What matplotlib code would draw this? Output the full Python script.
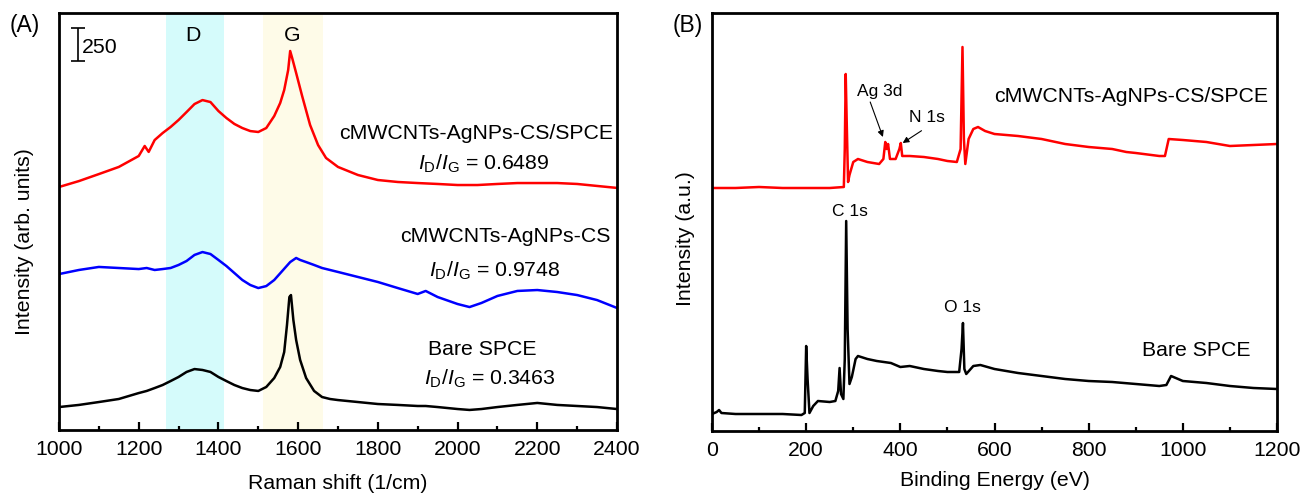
import matplotlib
matplotlib.use('Agg')
import matplotlib.pyplot as plt

plt.rcParams['font.family'] = ['Liberation Sans', 'DejaVu Sans']
plt.rcParams['mathtext.fontset'] = 'custom'
plt.rcParams['mathtext.rm'] = 'Liberation Sans'
plt.rcParams['mathtext.it'] = 'Liberation Sans:italic'
plt.rcParams['font.size'] = 15.3

# ---- (A) Raman spectra ----
raman_bare_x = [1000, 1050, 1100, 1150, 1200, 1220, 1240, 1260, 1280, 1300, 1320, 1340, 1360,
                1380, 1400, 1420, 1440, 1460, 1480, 1500, 1520, 1540, 1555, 1565, 1572, 1578,
                1582, 1588, 1595, 1605, 1620, 1640, 1660, 1680, 1700, 1750, 1800, 1850, 1900,
                1920, 1950, 2000, 2030, 2060, 2100, 2150, 2200, 2250, 2300, 2350, 2400]
raman_bare_y = [174, 190, 212, 235, 280, 296, 318, 341, 371, 402, 440, 462, 455,
                440, 402, 371, 341, 318, 303, 296, 326, 394, 478, 591, 796, 1008,
                1023, 834, 682, 531, 394, 296, 250, 235, 227, 212, 197, 190, 182,
                182, 174, 159, 152, 159, 174, 190, 205, 190, 182, 174, 159]

raman_cs_x = [1000, 1050, 1100, 1150, 1200, 1220, 1240, 1260, 1280, 1300, 1320, 1340, 1360,
              1380, 1400, 1420, 1440, 1460, 1480, 1500, 1520, 1540, 1560, 1580, 1595, 1605,
              1620, 1640, 1660, 1680, 1700, 1750, 1800, 1850, 1900, 1920, 1950, 2000, 2030,
              2060, 2100, 2150, 2200, 2250, 2300, 2350, 2400]
raman_cs_y = [1182, 1213, 1236, 1228, 1220, 1228, 1213, 1220, 1228, 1251, 1281, 1327, 1349,
              1334, 1289, 1243, 1190, 1137, 1099, 1076, 1091, 1137, 1205, 1273, 1304, 1289,
              1273, 1251, 1228, 1213, 1198, 1160, 1122, 1076, 1031, 1054, 1008, 955, 932,
              963, 1016, 1054, 1061, 1046, 1023, 985, 925]

raman_spce_x = [1000, 1050, 1100, 1150, 1200, 1215, 1225, 1240, 1260, 1280, 1300, 1320, 1340,
                1360, 1380, 1400, 1420, 1440, 1460, 1480, 1500, 1520, 1540, 1555, 1565, 1575,
                1580, 1585, 1595, 1610, 1630, 1650, 1670, 1700, 1750, 1800, 1850, 1900, 1950,
                2000, 2050, 2100, 2150, 2200, 2250, 2300, 2350, 2400]
raman_spce_y = [1842, 1887, 1940, 1994, 2077, 2153, 2108, 2198, 2251, 2297, 2350, 2410, 2471,
                2501, 2486, 2418, 2365, 2320, 2289, 2266, 2259, 2289, 2380, 2479, 2577, 2729,
                2873, 2820, 2706, 2532, 2312, 2160, 2062, 1994, 1933, 1895, 1880, 1872, 1865,
                1857, 1857, 1865, 1872, 1872, 1872, 1865, 1850, 1835]

d_band = (1268, 1414)
g_band = (1512, 1662)

# ---- (B) XPS survey ----
xps_bare_x = [0, 10, 15, 20, 50, 100, 150, 190, 197, 200, 203, 207, 215, 225, 250, 262, 268,
              271, 274, 279, 282, 285, 288, 292, 297, 305, 310, 330, 350, 380, 400, 420, 450,
              480, 500, 525, 530, 533, 536, 540, 555, 570, 600, 650, 700, 750, 800, 850, 900,
              950, 965, 975, 990, 1000, 1050, 1100, 1150, 1200]
xps_bare_y = [170, 190, 210, 180, 170, 170, 170, 160, 180, 850, 520, 180, 250, 300, 290, 300, 400,
              630, 370, 320, 720, 2100, 1020, 470, 540, 720, 750, 720, 700, 680, 640, 650, 620,
              600, 590, 590, 820, 1080, 620, 570, 650, 660, 620, 580, 550, 520, 500, 490, 470,
              450, 460, 550, 520, 500, 480, 450, 430, 420]

xps_spce_x = [0, 50, 100, 150, 200, 250, 280, 282, 284, 286, 289, 292, 300, 310, 330, 355, 364,
              368, 371, 374, 378, 390, 398, 401, 404, 420, 450, 480, 500, 520, 528, 532, 535,
              538, 545, 555, 565, 580, 600, 650, 700, 750, 800, 850, 880, 900, 950, 962, 970,
              1000, 1050, 1100, 1150, 1200]
xps_spce_y = [2430, 2430, 2440, 2430, 2430, 2430, 2440, 2820, 3570, 3120, 2490, 2560, 2690, 2720,
              2690, 2670, 2720, 2890, 2820, 2870, 2720, 2720, 2820, 2880, 2750, 2750, 2740, 2720,
              2700, 2690, 2820, 3840, 2920, 2670, 2920, 3020, 3040, 3000, 2970, 2950, 2920, 2870,
              2840, 2820, 2790, 2780, 2750, 2750, 2920, 2910, 2890, 2850, 2860, 2870]

fig = plt.figure(figsize=(13.01, 4.96), dpi=100)
axA = fig.add_axes([59 / 1301, 1 - 430 / 496, 558 / 1301, 417 / 496])
axB = fig.add_axes([712 / 1301, 1 - 431 / 496, 565 / 1301, 418 / 496])


def style(ax):
    for s in ax.spines.values():
        s.set_linewidth(2)
    ax.tick_params(axis='x', which='both', direction='in', top=False, width=1.6, pad=7)
    ax.tick_params(axis='x', which='major', length=6)
    ax.tick_params(axis='x', which='minor', length=3)
    ax.tick_params(axis='y', which='both', left=False, labelleft=False)


# panel A
axA.axvspan(*d_band, color='#d5fbfb', lw=0)
axA.axvspan(*g_band, color='#fefbe8', lw=0)
axA.plot(raman_spce_x, raman_spce_y, color='red', lw=1.8)
axA.plot(raman_cs_x, raman_cs_y, color='blue', lw=1.8)
axA.plot(raman_bare_x, raman_bare_y, color='black', lw=1.8)
axA.set_xlim(1000, 2400)
axA.set_ylim(0, 3161)
axA.set_xticks(range(1000, 2401, 200))
axA.set_xticks(range(1100, 2400, 200), minor=True)
style(axA)
axA.set_xlabel('Raman shift (1/cm)')
axA.set_ylabel('Intensity (arb. units)')
axA.xaxis.set_label_coords(0.5, -0.105)
axA.yaxis.set_label_coords(-0.045, 0.453)

axA.errorbar([1048], [2922], yerr=125, color='k', lw=1.2, capsize=5, capthick=1.2)
axA.text(1058, 2858, '250', ha='left', va='baseline')
axA.text(1336, 2949, 'D', ha='center', va='baseline')
axA.text(1585, 2949, 'G', ha='center', va='baseline')
axA.text(2047, 2205, 'cMWCNTs-AgNPs-CS/SPCE', ha='center', va='baseline')
axA.text(2065, 1971, r'$I_\mathrm{D}/I_\mathrm{G}$ = 0.6489', ha='center', va='baseline')
axA.text(2119, 1425, 'cMWCNTs-AgNPs-CS', ha='center', va='baseline')
axA.text(2094, 1160, r'$I_\mathrm{D}/I_\mathrm{G}$ = 0.9748', ha='center', va='baseline')
axA.text(2061, 569, 'Bare SPCE', ha='center', va='baseline')
axA.text(2080, 341, r'$I_\mathrm{D}/I_\mathrm{G}$ = 0.3463', ha='center', va='baseline')

# panel B
axB.plot(xps_spce_x, xps_spce_y, color='red', lw=1.8)
axB.plot(xps_bare_x, xps_bare_y, color='black', lw=1.8)
axB.set_xlim(0, 1200)
axB.set_ylim(0, 4180)
axB.set_xticks(range(0, 1201, 200))
axB.set_xticks(range(100, 1200, 200), minor=True)
style(axB)
axB.set_xlabel('Binding Energy (eV)')
axB.set_ylabel('Intensity (a.u.)')
axB.xaxis.set_label_coords(0.5, -0.095)
axB.yaxis.set_label_coords(-0.03, 0.46)

arrow = dict(arrowstyle='-|>', color='k', lw=0.8, mutation_scale=9, shrinkA=0, shrinkB=0)
axB.text(356, 3350, 'Ag 3d', ha='center', va='baseline', fontsize=12.5)
axB.annotate('', xy=(363, 2940), xytext=(336, 3290), arrowprops=arrow)
axB.text(456, 3090, 'N 1s', ha='center', va='baseline', fontsize=12.5)
axB.annotate('', xy=(405, 2880), xytext=(445, 3003), arrowprops=arrow)
axB.text(293, 2150, 'C 1s', ha='center', va='baseline', fontsize=12.5)
axB.text(531, 1190, 'O 1s', ha='center', va='baseline', fontsize=12.5)
axB.text(1028, 750, 'Bare SPCE', ha='center', va='baseline')
axB.text(890, 3290, 'cMWCNTs-AgNPs-CS/SPCE', ha='center', va='baseline')

fig.text(10 / 1301, 1 - 32 / 496, '(A)', ha='left', va='baseline', fontsize=16.5)
fig.text(673 / 1301, 1 - 32 / 496, '(B)', ha='left', va='baseline', fontsize=16.5)

fig.savefig('out.png', dpi=100)
